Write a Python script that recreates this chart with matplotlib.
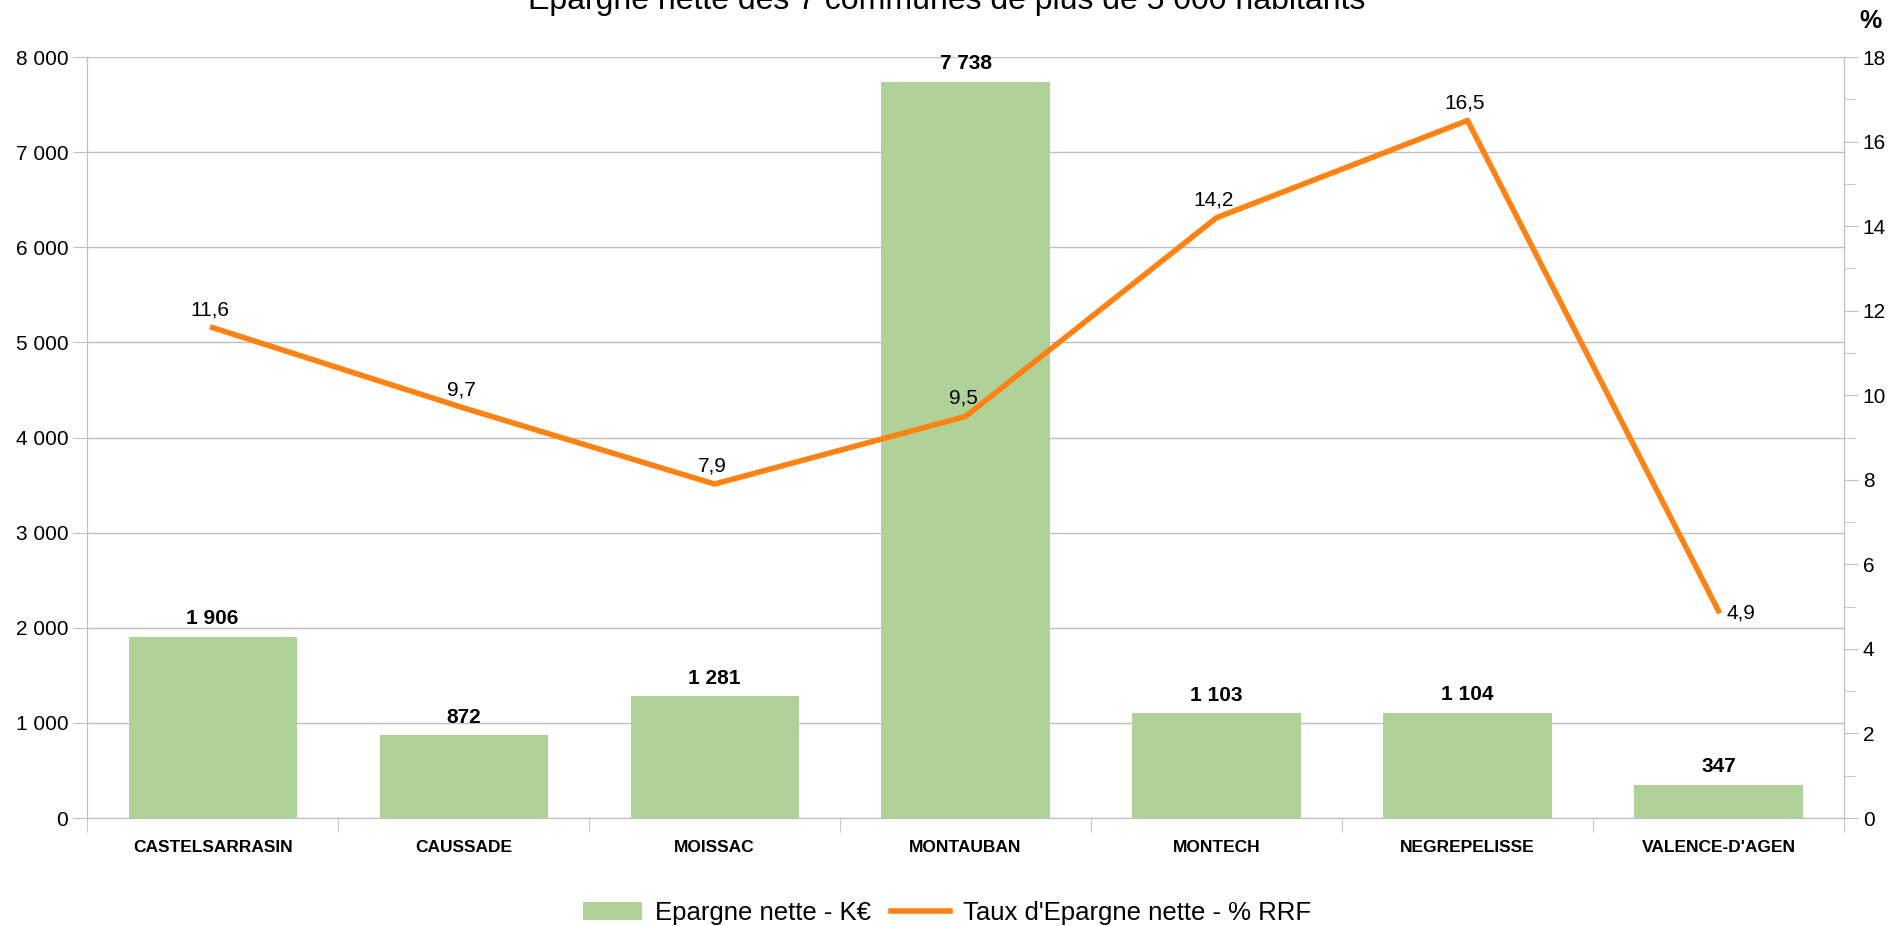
import matplotlib
matplotlib.use("Agg")
import matplotlib.pyplot as plt
import numpy as np
from matplotlib.ticker import FuncFormatter, MultipleLocator

plt.rcParams["font.family"] = ["Liberation Sans", "DejaVu Sans"]

communes = ["CASTELSARRASIN", "CAUSSADE", "MOISSAC", "MONTAUBAN",
            "MONTECH", "NEGREPELISSE", "VALENCE-D'AGEN"]
epargne = [1906, 872, 1281, 7738, 1103, 1104, 347]
taux = [11.6, 9.7, 7.9, 9.5, 14.2, 16.5, 4.9]

BAR = "#b0d198"
ORANGE = "#ff8214"
GRID = "#c0c0c0"

fig = plt.figure(figsize=(18.94, 9.26), dpi=100, facecolor="white")
ax = fig.add_axes([0.046, 0.1166, 0.9276, 0.8218])
ax2 = ax.twinx()

x = np.arange(len(communes))
ax.bar(x, epargne, 0.67, color=BAR, zorder=2, label="Epargne nette - K€")
ax2.plot(x, taux, color=ORANGE, lw=4, zorder=3, label="Taux d'Epargne nette - % RRF")

# étiquettes
fmt = lambda v: f"{v:,.0f}".replace(",", " ")
for xi, v in zip(x, epargne):
    ax.text(xi, v + 90, fmt(v), ha="center", va="bottom", fontsize=15, fontweight="bold")
for i, (xi, v) in enumerate(zip(x, taux)):
    s = f"{v:.1f}".replace(".", ",")
    if i == len(taux) - 1:
        ax2.text(xi + 0.03, v - 0.05, s, ha="left", va="center", fontsize=15)
    else:
        ax2.text(xi - 0.01, v + 0.2, s, ha="center", va="bottom", fontsize=15)

ax.set_xlim(-0.5, len(communes) - 0.5)
ax.set_ylim(0, 8000)
ax2.set_ylim(0, 18)
ax.yaxis.set_major_locator(MultipleLocator(1000))
ax.yaxis.set_major_formatter(FuncFormatter(lambda v, p: fmt(v)))
ax2.yaxis.set_major_locator(MultipleLocator(2))
ax2.yaxis.set_minor_locator(MultipleLocator(1))

ax.grid(True, axis="y", color=GRID, lw=1, zorder=0)
ax.set_axisbelow(True)

ax.set_xticks(x)
ax.set_xticklabels(communes, fontsize=12.5, fontweight="bold")
ax.set_xticks(np.arange(-0.5, len(communes)), minor=True)
ax.tick_params(axis="x", which="major", length=0, pad=16)
ax.tick_params(axis="x", which="minor", length=10, color=GRID)
ax.tick_params(axis="y", labelsize=15, length=10, color=GRID)
ax2.tick_params(axis="y", which="both", labelsize=15, color=GRID)
ax2.tick_params(axis="y", which="major", length=10)
ax2.tick_params(axis="y", which="minor", length=8)

for a in (ax, ax2):
    a.spines["top"].set_visible(False)
    for side in ("left", "right", "bottom"):
        a.spines[side].set_color(GRID)

fig.text(0.5, 1 - 9 / 926, "Epargne nette des 7 communes de plus de 5 000 habitants",
         ha="center", va="baseline", fontsize=23)
fig.text(0.9877, 1 - 21 / 926, "%", ha="center", va="center", fontsize=18, fontweight="bold")

h1, l1 = ax.get_legend_handles_labels()
h2, l2 = ax2.get_legend_handles_labels()
fig.legend(h1 + h2, l1 + l2, loc="center", bbox_to_anchor=(0.5, 1 - 913 / 926),
           ncol=2, frameon=False, fontsize=18.5, handlelength=2.3, columnspacing=0.8,
           handletextpad=0.5)

fig.savefig("out.png", dpi=100, facecolor="white")
